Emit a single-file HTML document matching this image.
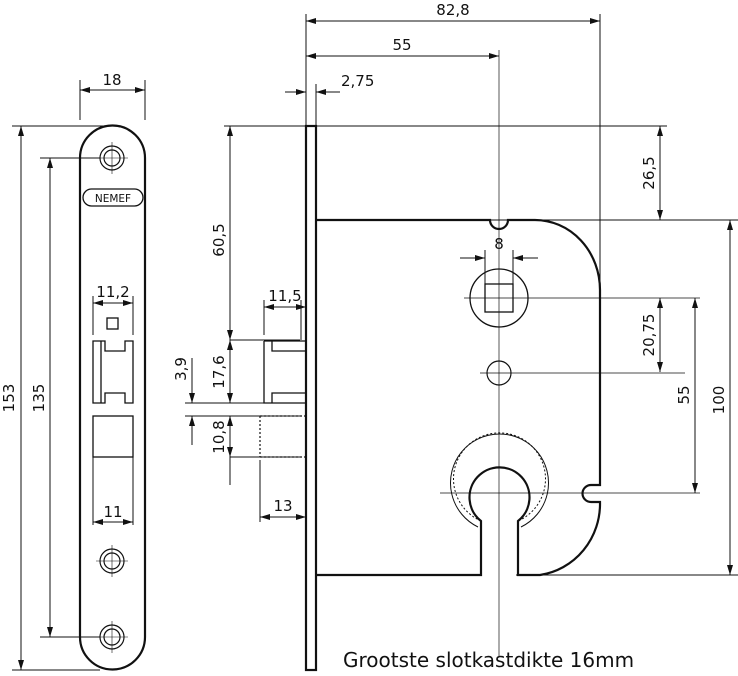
<!DOCTYPE html>
<html><head><meta charset="utf-8"><style>
html,body{margin:0;padding:0;background:#fff}
svg{display:block}
text{font-family:"DejaVu Sans","Liberation Sans",sans-serif;fill:#111}
</style></head><body>
<svg width="738" height="676" viewBox="0 0 738 676" xmlns="http://www.w3.org/2000/svg">
<defs>
<marker id="a" viewBox="0 0 10 6" refX="10" refY="3" markerWidth="10" markerHeight="6" orient="auto-start-reverse" markerUnits="userSpaceOnUse"><path d="M0,0L10,3L0,6z" fill="#111"/></marker>
</defs>
<g stroke="#111" fill="none" stroke-width="1">
<!-- LEFT FACEPLATE -->
<path d="M80,158 A32.5,32.5 0 0 1 145,158 L145,637 A32.5,32.5 0 0 1 80,637 Z" stroke-width="2.2"/>
<g stroke-width="1.2">
<circle cx="112" cy="158" r="12"/><circle cx="112" cy="158" r="8"/>
<circle cx="112" cy="561" r="12"/><circle cx="112" cy="561" r="8"/>
<circle cx="112" cy="637" r="12"/><circle cx="112" cy="637" r="8"/>
</g>
<g stroke-width="0.6">
<path d="M96,158H128M112,142V174M96,561H128M112,545V577M96,637H128M112,621V653"/>
</g>
<rect x="83" y="189" width="60" height="17" rx="8.5" stroke-width="1.3"/>
<rect x="107" y="318" width="11" height="11" stroke-width="1.3"/>
<path d="M93,341H101V403H93ZM101,341H105V351H125V341H133V403H125V393H105V403H101" stroke-width="1.3"/>
<rect x="93" y="416" width="40" height="41" stroke-width="1.3"/>
<path d="M93,457V525M133,457V525M93,296V335M133,296V335"/>
<!-- left dims -->
<path d="M80,80V120M145,80V120"/>
<path d="M80,90H145" marker-start="url(#a)" marker-end="url(#a)"/>
<path d="M12,126H112M12,670H100M40,158H100M40,637H100"/>
<path d="M21,126V670" marker-start="url(#a)" marker-end="url(#a)"/>
<path d="M50,158V637" marker-start="url(#a)" marker-end="url(#a)"/>
<path d="M93,303H133" marker-start="url(#a)" marker-end="url(#a)"/>
<path d="M93,522H133" marker-start="url(#a)" marker-end="url(#a)"/>

<!-- SIDE VIEW faceplate -->
<rect x="306" y="126" width="10" height="544" stroke-width="2.2"/>
<!-- lock box -->
<path d="M316,220H490A9,9 0 0 0 508,220H535A65,70 0 0 1 600,290V485H591A8.5,8.5 0 0 0 591,502H600A70,72 0 0 1 540,575H518V521A30,30 0 1 0 481,521V575H316" stroke-width="2.2"/>
<path d="M481,521A46,46 0 1 1 518,521" stroke-width="1" stroke-dasharray="2,2"/>
<path d="M478,527A49,49 0 1 1 521,527" stroke-width="1"/>
<circle cx="499" cy="298" r="29" stroke-width="1.3"/>
<rect x="485" y="284" width="28" height="28" stroke-width="1.3"/>
<circle cx="499" cy="373" r="12" stroke-width="1.2"/>
<!-- centerlines -->
<g stroke-width="0.7">
<path d="M499,50V656"/>
<path d="M464,298H700M480,373H685M440,493H700"/>
</g>
<!-- latch -->
<path d="M264,341H306M264,341V403H306M272,341V351H306M272,403V393H306" stroke-width="1.3"/>
<path d="M230,340H300M230,403H300M185,416H300M185,403H230M230,457H300"/>
<path d="M260,416H306M260,457H306M260,416V457" stroke-dasharray="2,2" stroke-width="1.2"/>
<path d="M264,300V335M260,460V522M301,300V340"/>
<!-- top dims -->
<path d="M306,14V126M600,14V290M316,84V126"/>
<path d="M306,21H600" marker-start="url(#a)" marker-end="url(#a)"/>
<path d="M306,56H499" marker-start="url(#a)" marker-end="url(#a)"/>
<path d="M285,92H306" marker-end="url(#a)"/>
<path d="M340,92H316" marker-end="url(#a)"/>
<path d="M224,126H667M316,220H738M516,575H738"/>
<!-- 60.5 / 17.6 / 10.8 -->
<path d="M230,126V340" marker-start="url(#a)" marker-end="url(#a)"/>
<path d="M230,340V403" marker-start="url(#a)" marker-end="url(#a)"/>
<path d="M230,416V457" marker-start="url(#a)" marker-end="url(#a)"/>
<path d="M230,457V485"/>
<path d="M192,358V403" marker-end="url(#a)"/>
<path d="M192,445V416" marker-end="url(#a)"/>
<path d="M264,307H306" marker-start="url(#a)" marker-end="url(#a)"/>
<path d="M260,517H306" marker-start="url(#a)" marker-end="url(#a)"/>
<!-- 8 -->
<path d="M485,250V290M513,250V290"/>
<path d="M460,258H485" marker-end="url(#a)"/>
<path d="M538,258H513" marker-end="url(#a)"/>
<!-- right dims -->
<path d="M660,126V220" marker-start="url(#a)" marker-end="url(#a)"/>
<path d="M660,298V372" marker-start="url(#a)" marker-end="url(#a)"/>
<path d="M695,298V493" marker-start="url(#a)" marker-end="url(#a)"/>
<path d="M730,220V575" marker-start="url(#a)" marker-end="url(#a)"/>
</g>
<g font-size="15">
<text x="112" y="85" text-anchor="middle">18</text>
<text x="113" y="297" text-anchor="middle">11,2</text>
<text x="113" y="517" text-anchor="middle">11</text>
<text x="113" y="202" text-anchor="middle" font-size="10.5">NEMEF</text>
<text transform="translate(14,398) rotate(-90)" text-anchor="middle">153</text>
<text transform="translate(44,398) rotate(-90)" text-anchor="middle">135</text>
<text x="453" y="15" text-anchor="middle">82,8</text>
<text x="402" y="50" text-anchor="middle">55</text>
<text x="341" y="86">2,75</text>
<text x="499" y="249" text-anchor="middle">8</text>
<text x="285" y="301" text-anchor="middle">11,5</text>
<text x="283" y="511" text-anchor="middle">13</text>
<text transform="translate(224,240) rotate(-90)" text-anchor="middle">60,5</text>
<text transform="translate(224,372) rotate(-90)" text-anchor="middle">17,6</text>
<text transform="translate(224,437) rotate(-90)" text-anchor="middle">10,8</text>
<text transform="translate(186,369) rotate(-90)" text-anchor="middle">3,9</text>
<text transform="translate(654,173) rotate(-90)" text-anchor="middle">26,5</text>
<text transform="translate(654,335) rotate(-90)" text-anchor="middle">20,75</text>
<text transform="translate(689,395) rotate(-90)" text-anchor="middle">55</text>
<text transform="translate(724,400) rotate(-90)" text-anchor="middle">100</text>
</g>
<text x="343" y="667" font-size="20">Grootste slotkastdikte 16mm</text>
</svg>
</body></html>
